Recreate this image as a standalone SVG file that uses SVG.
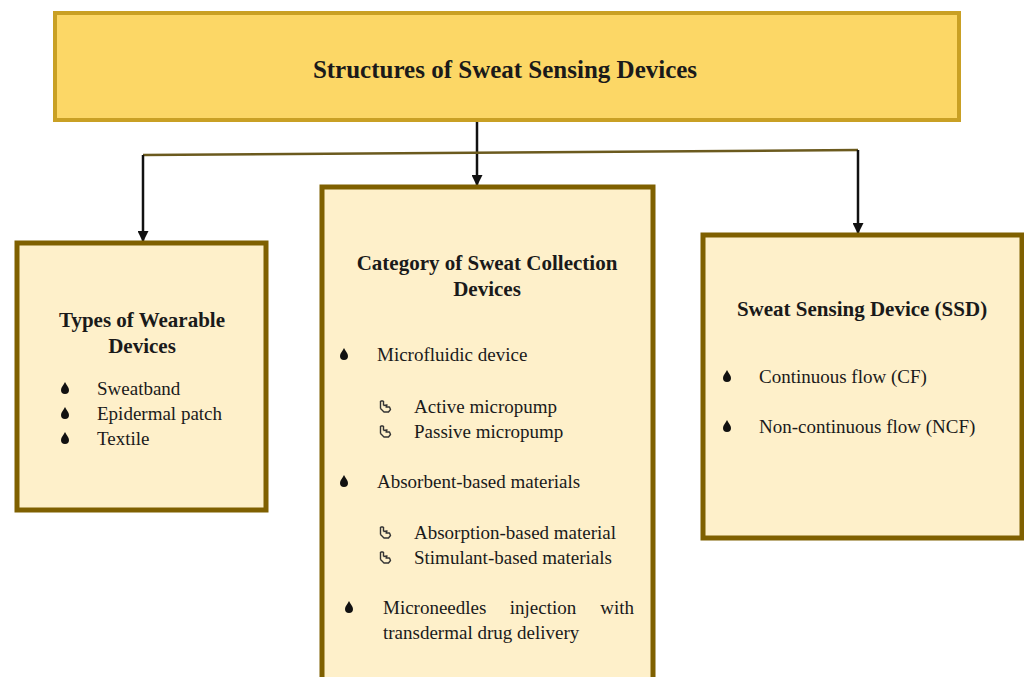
<svg xmlns="http://www.w3.org/2000/svg" width="1024" height="677" viewBox="0 0 1024 677">
<style>
text{font-family:"Liberation Serif","DejaVu Serif","Times New Roman",serif;fill:#1a1a1a}
.h{font-weight:bold;font-size:21px;text-anchor:middle}
.b{font-size:19px}
.box{fill:#FEF0CA;stroke:#7F6000;stroke-width:5}
.ln{stroke:#111;stroke-width:2.5;fill:none}
</style>
<defs>
<marker id="arw" viewBox="0 0 10 10" refX="9" refY="5" markerWidth="11" markerHeight="11" orient="auto" markerUnits="userSpaceOnUse">
<path d="M0,0 L10,5 L0,10 Z" fill="#111"/>
</marker>
<symbol id="drop" viewBox="-5 -7 10 13" overflow="visible">
<path d="M0,-6 C1.5,-3 4,-0.5 4,2 A4,4 0 0 1 -4,2 C-4,-0.5 -1.5,-3 0,-6 Z" fill="#111"/>
</symbol>
<symbol id="hand" viewBox="-6 -7 12 14" overflow="visible">
<path d="M-4.5,-6 L-4.5,1.5 M-1.5,-6 L-1.5,-1.5 M-4.5,-6 L-1.5,-6 M-4.5,1.5 L-1,5 L3.5,5 L5.5,2.5 L4.5,0 L1,0 L2,-2 L-1.5,-1.5" fill="none" stroke="#333" stroke-width="1.4" stroke-linejoin="round"/>
</symbol>
</defs>

<g id="connectors">
<line class="ln" x1="477" y1="121" x2="477" y2="185" marker-end="url(#arw)"/>
<line x1="143" y1="155" x2="858" y2="150" stroke="#6B5A1E" stroke-width="2.5"/>
<line class="ln" x1="143" y1="155" x2="143" y2="241" marker-end="url(#arw)"/>
<line class="ln" x1="858" y1="150" x2="858" y2="233" marker-end="url(#arw)"/>
</g>

<g id="root">
<rect x="55" y="13" width="904" height="107" fill="#FCD766" stroke="#C9A024" stroke-width="4"/>
<text x="505" y="78" font-size="25" font-weight="bold" text-anchor="middle">Structures of Sweat Sensing Devices</text>
</g>

<g id="wearable">
<rect class="box" x="17" y="243" width="249" height="267"/>
<text class="h" x="142" y="327">Types of Wearable</text>
<text class="h" x="142" y="353">Devices</text>
<use href="#drop" x="60" y="381" width="10" height="13"/>
<text class="b" x="97" y="395">Sweatband</text>
<use href="#drop" x="60" y="406" width="10" height="13"/>
<text class="b" x="97" y="420">Epidermal patch</text>
<use href="#drop" x="60" y="431" width="10" height="13"/>
<text class="b" x="97" y="445">Textile</text>
</g>

<g id="collection">
<rect class="box" x="322" y="187" width="331" height="500"/>
<text class="h" x="487" y="270">Category of Sweat Collection</text>
<text class="h" x="487" y="296">Devices</text>
<use href="#drop" x="339" y="347" width="10" height="13"/>
<text class="b" x="377" y="361">Microfluidic device</text>
<use href="#hand" x="379" y="400" width="12" height="14"/>
<text class="b" x="414" y="413">Active micropump</text>
<use href="#hand" x="379" y="425" width="12" height="14"/>
<text class="b" x="414" y="438">Passive micropump</text>
<use href="#drop" x="339" y="474" width="10" height="13"/>
<text class="b" x="377" y="488">Absorbent-based materials</text>
<use href="#hand" x="379" y="526" width="12" height="14"/>
<text class="b" x="414" y="539">Absorption-based material</text>
<use href="#hand" x="379" y="551" width="12" height="14"/>
<text class="b" x="414" y="564">Stimulant-based materials</text>
<use href="#drop" x="344" y="600" width="10" height="13"/>
<text class="b" x="383" y="614">Microneedles</text>
<text class="b" x="543" y="614" text-anchor="middle">injection</text>
<text class="b" x="634" y="614" text-anchor="end">with</text>
<text class="b" x="383" y="639">transdermal drug delivery</text>
</g>

<g id="ssd">
<rect class="box" x="703" y="235" width="319" height="303"/>
<text class="h" x="862" y="316">Sweat Sensing Device (SSD)</text>
<use href="#drop" x="722" y="369" width="10" height="13"/>
<text class="b" x="759" y="383">Continuous flow (CF)</text>
<use href="#drop" x="722" y="419" width="10" height="13"/>
<text class="b" x="759" y="433">Non-continuous flow (NCF)</text>
</g>
</svg>
